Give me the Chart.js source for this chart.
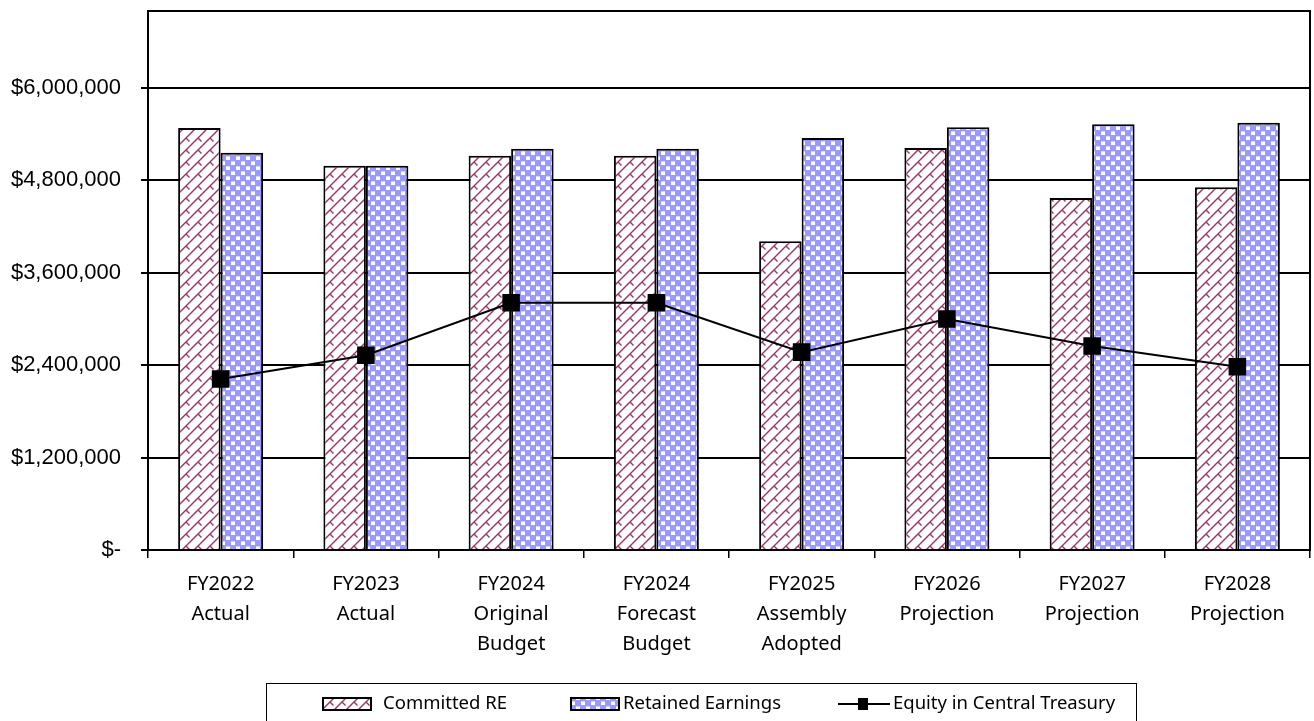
<!DOCTYPE html>
<html>
<head>
<meta charset="utf-8">
<script src="https://cdn.jsdelivr.net/npm/chart.js"></script>
<style>
  html, body { margin: 0; padding: 0; background: #fff; }
  #wrap { width: 1314px; height: 721px; position: relative; }
</style>
</head>
<body>
<div id="wrap"><canvas id="chart"></canvas></div>
<script>
// values
var categories = [
  ["FY2022", "Actual"], ["FY2023", "Actual"], ["FY2024", "Original", "Budget"],
  ["FY2024", "Forecast", "Budget"], ["FY2025", "Assembly", "Adopted"],
  ["FY2026", "Projection"], ["FY2027", "Projection"], ["FY2028", "Projection"]
];
var committedRE      = [5480000, 4990000, 5120000, 5120000, 4010000, 5220000, 4570000, 4710000];
var retainedEarnings = [5160000, 4990000, 5210000, 5210000, 5350000, 5490000, 5530000, 5550000];
var equityTreasury   = [2220000, 2530000, 3210000, 3210000, 2570000, 3000000, 2650000, 2380000];
var seriesNames = ["Committed RE", "Retained Earnings", "Equity in Central Treasury"];
var yTicks = [0, 1200000, 2400000, 3600000, 4800000, 6000000];
var yMax = 7000000;

var ctx = document.getElementById("chart").getContext("2d");

// diagonal lines with small ticks (maroon on white)
function brickPattern() {
  var c = document.createElement("canvas");
  c.width = 12; c.height = 12;
  var g = c.getContext("2d");
  g.fillStyle = "#fff";
  g.fillRect(0, 0, 12, 12);
  g.strokeStyle = "#9c2f63";
  g.lineWidth = 1.4;
  g.beginPath();
  [0, 12, 24].forEach(function (k) {
    g.moveTo(-3, k + 3);
    g.lineTo(k + 3, -3);
  });
  g.moveTo(6, 6); g.lineTo(9.5, 9.5);
  g.stroke();
  return ctx.createPattern(c, "repeat");
}

// lavender checker pattern
function checkerPattern() {
  var c = document.createElement("canvas");
  c.width = 10; c.height = 10;
  var g = c.getContext("2d");
  g.fillStyle = "#9999ff";
  g.fillRect(0, 0, 10, 10);
  g.fillStyle = "#ffffff";
  g.fillRect(1, 2, 4, 3);
  g.fillRect(6, 7, 4, 3);
  g.fillStyle = "#d6d6ff";
  g.fillRect(1, 1, 4, 1);
  g.fillRect(6, 6, 4, 1);
  return ctx.createPattern(c, "repeat");
}

var fillRE = brickPattern();
var fillRetained = checkerPattern();

var framePlugin = {
  id: "frame",
  beforeDatasetsDraw: function (chart) {
    var a = chart.chartArea, c = chart.ctx;
    c.save();
    c.strokeStyle = "#000";
    c.lineWidth = 2;
    c.strokeRect(a.left, a.top, a.right - a.left, a.bottom - a.top);
    c.restore();
  },
  afterDraw: function (chart) {
    var c = chart.ctx;
    c.save();
    // legend box
    c.strokeStyle = "#000";
    c.lineWidth = 1;
    c.strokeRect(266.5, 683.5, 870, 40);
    c.font = "18.5px 'Noto Sans'";
    c.textBaseline = "middle";
    var cy = 704;
    c.lineWidth = 2;
    // item 1
    c.fillStyle = fillRE;
    c.fillRect(323, cy - 6, 48, 12);
    c.strokeRect(323, cy - 6, 48, 12);
    c.fillStyle = "#000";
    c.fillText(seriesNames[0], 383, cy);
    // item 2
    c.fillStyle = fillRetained;
    c.fillRect(571, cy - 6, 48, 12);
    c.strokeRect(571, cy - 6, 48, 12);
    c.fillStyle = "#000";
    c.fillText(seriesNames[1], 623, cy);
    // item 3
    c.beginPath();
    c.moveTo(838, cy); c.lineTo(890, cy);
    c.stroke();
    c.fillRect(858, cy - 6, 10, 12);
    c.fillText(seriesNames[2], 893, cy);
    c.restore();
  }
};

new Chart(ctx, {
  type: "bar",
  data: {
    labels: categories,
    datasets: [
      {
        type: "line",
        label: seriesNames[2],
        data: equityTreasury,
        borderColor: "#000",
        backgroundColor: "#000",
        borderWidth: 2,
        pointStyle: "rect",
        pointRadius: 11,
        pointBackgroundColor: "#000",
        pointBorderColor: "#000",
        order: 0
      },
      {
        label: seriesNames[0],
        data: committedRE,
        backgroundColor: fillRE,
        borderColor: "#000",
        borderWidth: 2,
        order: 1
      },
      {
        label: seriesNames[1],
        data: retainedEarnings,
        backgroundColor: fillRetained,
        borderColor: "#000",
        borderWidth: 2,
        order: 1
      }
    ]
  },
  options: {
    responsive: true,
    maintainAspectRatio: false,
    animation: false,
    layout: { autoPadding: false, padding: { left: 0, top: 11, right: 4, bottom: 38 } },
    datasets: { bar: { barPercentage: 1, categoryPercentage: 0.585 } },
    plugins: { legend: { display: false }, tooltip: { enabled: false } },
    scales: {
      x: {
        offset: true,
        grid: { offset: true, drawOnChartArea: false, color: "#000", lineWidth: 1.5, tickLength: 8 },
        border: { display: false },
        ticks: {
          color: "#000",
          font: { family: "'Noto Sans'", size: 20, lineHeight: 1.5 },
          padding: 11,
          maxRotation: 0,
          autoSkip: false
        },
        afterFit: function (s) {
          s.height = 133;
          s.paddingLeft = 0; s.paddingRight = 0;
        }
      },
      y: {
        min: 0,
        max: yMax,
        afterBuildTicks: function (s) {
          s.ticks = yTicks.map(function (v) { return { value: v }; });
        },
        grid: { color: "#000", lineWidth: 2, tickLength: 7 },
        border: { display: false },
        ticks: {
          color: "#000",
          font: { family: "'Liberation Sans', Arial", size: 22 },
          padding: 20,
          callback: function (v) {
            return v === 0 ? "$-" : "$" + Number(v).toLocaleString("en-US");
          }
        },
        afterFit: function (s) {
          s.width = 148;
          s.paddingTop = 0; s.paddingBottom = 0;
        }
      }
    }
  },
  plugins: [framePlugin]
});
</script>
</body>
</html>
